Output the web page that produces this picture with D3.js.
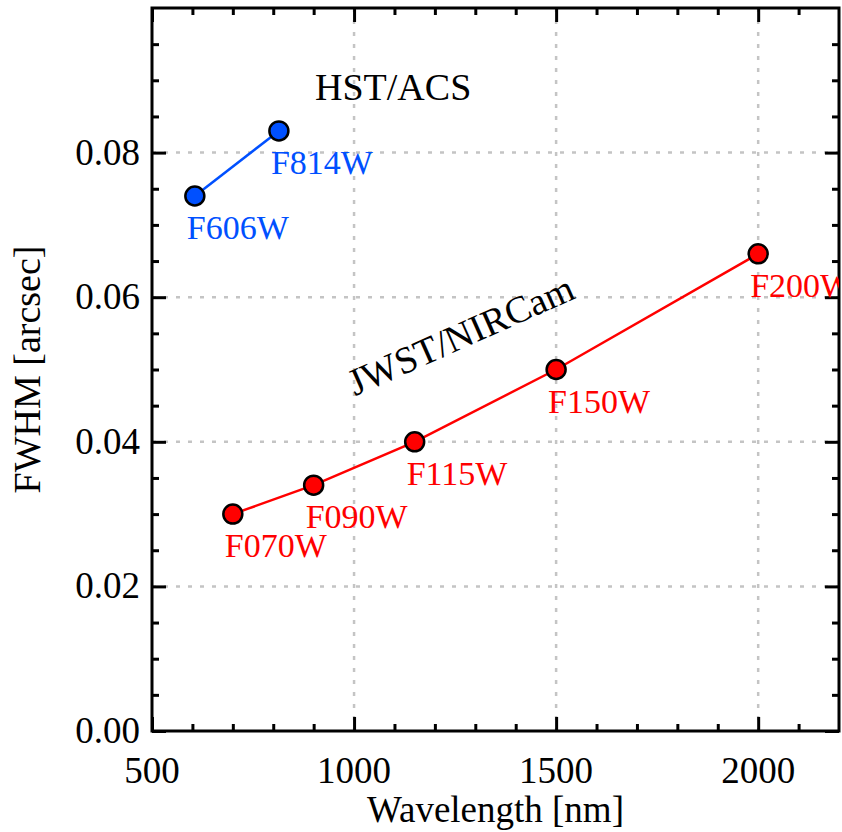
<!DOCTYPE html>
<html>
<head>
<meta charset="utf-8">
<script src="https://cdn.jsdelivr.net/npm/d3@7"></script>
<style>
body { margin: 0; background: #fff; }
text { font-family: "Liberation Serif", "DejaVu Serif", serif; }
</style>
</head>
<body>
<div id="chart"></div>
<script>
// data
var hstFilters = ["F606W", "F814W"];
var hstWave = [606, 814];
var hstFwhm = [0.074, 0.083];

var jwstFilters = ["F070W", "F090W", "F115W", "F150W", "F200W"];
var jwstWave = [700, 900, 1150, 1500, 2000];
var jwstFwhm = [0.030, 0.034, 0.040, 0.050, 0.066];

var xTicks = [500, 1000, 1500, 2000];
var yTicks = [0.00, 0.02, 0.04, 0.06, 0.08];

var svgWidth = 842;
var svgHeight = 832;
var margin = { top: 8, right: 3, bottom: 101, left: 152 };
var chartWidth = svgWidth - margin.left - margin.right;
var chartHeight = svgHeight - margin.top - margin.bottom;

var svg = d3.select("#chart")
    .append("svg")
    .attr("width", svgWidth)
    .attr("height", svgHeight);

var chartGroup = svg.append("g")
    .attr("transform", `translate(${margin.left}, ${margin.top})`);

var xScale = d3.scaleLinear().domain([500, 2200]).range([0, chartWidth]);
var yScale = d3.scaleLinear().domain([0, 0.1]).range([chartHeight, 0]);

svg.append("defs").append("clipPath")
    .attr("id", "plotClip")
    .append("rect")
    .attr("width", chartWidth)
    .attr("height", chartHeight);

// dotted grid
chartGroup.append("g")
    .selectAll("line")
    .data(xTicks.filter(d => d > 500))
    .enter()
    .append("line")
    .attr("x1", d => xScale(d)).attr("x2", d => xScale(d))
    .attr("y1", 0).attr("y2", chartHeight)
    .attr("stroke", "#c4c4c4")
    .attr("stroke-width", 2.5)
    .attr("stroke-dasharray", "4,8");
chartGroup.append("g")
    .selectAll("line")
    .data(yTicks.filter(d => d > 0))
    .enter()
    .append("line")
    .attr("y1", d => yScale(d)).attr("y2", d => yScale(d))
    .attr("x1", 0).attr("x2", chartWidth)
    .attr("stroke", "#c4c4c4")
    .attr("stroke-width", 2.5)
    .attr("stroke-dasharray", "4,8");

// axes, ticks pointing inward on all four sides
var xMinor = d3.range(600, 2200, 100).filter(d => d % 500 !== 0);
var yMinor = d3.range(1, 20).map(d => d * 0.005).filter(d => Math.round(d * 1000) % 20 !== 0);

function styleAxis(g) {
    g.select(".domain").remove();
    g.selectAll("line").attr("stroke", "#000").attr("stroke-width", 3);
    g.selectAll("text").remove();
}

var bottomAxis = d3.axisBottom(xScale).tickValues(xTicks).tickSize(-14);
var bottomMinor = d3.axisBottom(xScale).tickValues(xMinor).tickSize(-7);
var topAxis = d3.axisTop(xScale).tickValues(xTicks).tickSize(-14);
var topMinor = d3.axisTop(xScale).tickValues(xMinor).tickSize(-7);
var leftAxis = d3.axisLeft(yScale).tickValues(yTicks).tickSize(-14);
var leftMinor = d3.axisLeft(yScale).tickValues(yMinor).tickSize(-7);
var rightAxis = d3.axisRight(yScale).tickValues(yTicks).tickSize(-14);
var rightMinor = d3.axisRight(yScale).tickValues(yMinor).tickSize(-7);

chartGroup.append("g").attr("transform", `translate(0, ${chartHeight})`).call(bottomAxis).call(styleAxis);
chartGroup.append("g").attr("transform", `translate(0, ${chartHeight})`).call(bottomMinor).call(styleAxis);
chartGroup.append("g").call(topAxis).call(styleAxis);
chartGroup.append("g").call(topMinor).call(styleAxis);
chartGroup.append("g").call(leftAxis).call(styleAxis);
chartGroup.append("g").call(leftMinor).call(styleAxis);
chartGroup.append("g").attr("transform", `translate(${chartWidth}, 0)`).call(rightAxis).call(styleAxis);
chartGroup.append("g").attr("transform", `translate(${chartWidth}, 0)`).call(rightMinor).call(styleAxis);

// frame
chartGroup.append("rect")
    .attr("width", chartWidth)
    .attr("height", chartHeight)
    .attr("fill", "none")
    .attr("stroke", "#000")
    .attr("stroke-width", 3);

// tick labels
chartGroup.append("g")
    .selectAll("text")
    .data(xTicks)
    .enter()
    .append("text")
    .attr("x", d => xScale(d))
    .attr("y", chartHeight + 52)
    .attr("text-anchor", "middle")
    .style("font-size", "37px")
    .text(d => d);
chartGroup.append("g")
    .selectAll("text")
    .data(yTicks)
    .enter()
    .append("text")
    .attr("x", -12)
    .attr("y", d => yScale(d) + 12)
    .attr("text-anchor", "end")
    .style("font-size", "37px")
    .text(d => d3.format(".2f")(d));

// axis titles
chartGroup.append("text")
    .attr("x", chartWidth / 2)
    .attr("y", chartHeight + 91)
    .attr("text-anchor", "middle")
    .style("font-size", "37px")
    .text("Wavelength [nm]");
chartGroup.append("text")
    .attr("transform", `translate(${-112}, ${chartHeight / 2}) rotate(-90)`)
    .attr("text-anchor", "middle")
    .style("font-size", "38px")
    .text("FWHM [arcsec]");

// series
function drawSeries(filters, wave, fwhm, color) {
    var pts = filters.map((f, i) => ({ name: f, x: wave[i], y: fwhm[i] }));
    var line = d3.line().x(d => xScale(d.x)).y(d => yScale(d.y));
    chartGroup.append("path")
        .datum(pts)
        .attr("d", line)
        .attr("fill", "none")
        .attr("stroke", color)
        .attr("stroke-width", 2.5);
    chartGroup.append("g")
        .selectAll("circle")
        .data(pts)
        .enter()
        .append("circle")
        .attr("cx", d => xScale(d.x))
        .attr("cy", d => yScale(d.y))
        .attr("r", 9.5)
        .attr("fill", color)
        .attr("stroke", "#000")
        .attr("stroke-width", 2.5);
    chartGroup.append("g")
        .attr("clip-path", "url(#plotClip)")
        .selectAll("text")
        .data(pts)
        .enter()
        .append("text")
        .attr("x", d => xScale(d.x) - 8)
        .attr("y", d => yScale(d.y) + 43)
        .attr("fill", color)
        .style("font-size", "34px")
        .text(d => d.name);
}

drawSeries(hstFilters, hstWave, hstFwhm, "#0050ff");
drawSeries(jwstFilters, jwstWave, jwstFwhm, "#ff0000");

// instrument names
chartGroup.append("text")
    .attr("x", 163)
    .attr("y", 92)
    .style("font-size", "38px")
    .text("HST/ACS");
chartGroup.append("text")
    .attr("transform", `translate(${466 - margin.left}, ${347 - margin.top}) rotate(-24)`)
    .attr("text-anchor", "middle")
    .style("font-size", "38px")
    .text("JWST/NIRCam");
</script>
</body>
</html>
